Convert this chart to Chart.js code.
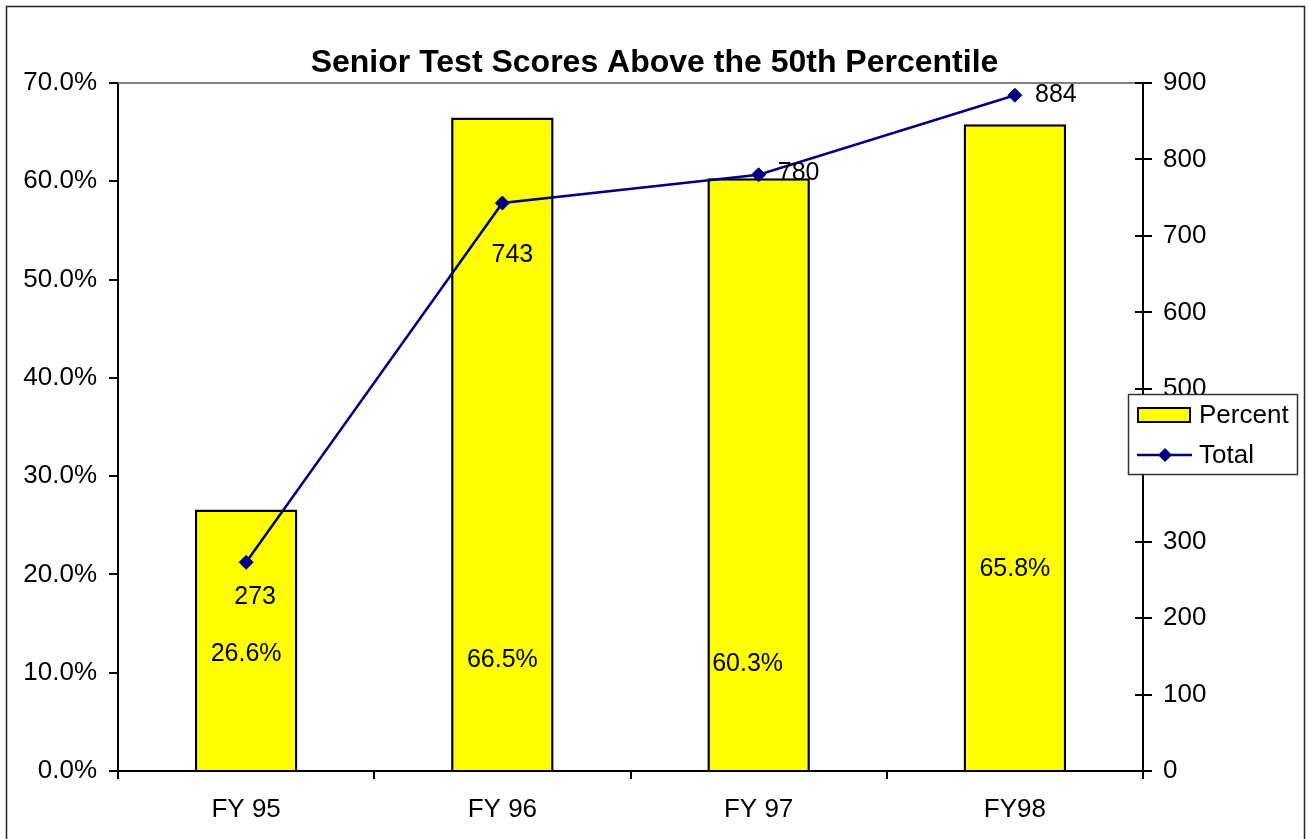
<!DOCTYPE html>
<html>
<head>
<meta charset="utf-8">
<script src="https://cdn.jsdelivr.net/npm/chart.js@4.4.0/dist/chart.umd.min.js"></script>
<style>
  html, body { margin: 0; padding: 0; background: #fff; }
  #wrap { width: 1309px; height: 839px; position: relative; }
</style>
</head>
<body>
<div id="wrap"><canvas id="scoreGraph"></canvas></div>
<script>
// chart values
var years = ["FY 95", "FY 96", "FY 97", "FY98"];
var percentAbove = [0.266, 0.665, 0.603, 0.658];
var totalAbove = [273, 743, 780, 884];
var percentMax = 0.7, percentStep = 0.1;
var totalMax = 900, totalStep = 100;

// label offsets (pixels) - just for placing the data labels like the original
var pctLabelOff = [[0, -116], [0, -110], [-11, -106], [0, -201]];
var totLabelOff = [[9, 35], [10, 52], [40, -2], [41, 0]];

var FONT = "'Liberation Sans', Arial, sans-serif";
var NAVY = "#000080";

var extrasPlugin = {
    id: 'extras',
    beforeDatasetsDraw: function(chart) {
        var ctx = chart.ctx, a = chart.chartArea;
        ctx.save();
        // plot area top edge
        ctx.strokeStyle = "#808080";
        ctx.lineWidth = 2;
        ctx.beginPath();
        ctx.moveTo(a.left, a.top);
        ctx.lineTo(a.right, a.top);
        ctx.stroke();
        // inner half of the right axis ticks
        var y1 = chart.scales.y1;
        ctx.strokeStyle = "#000";
        ctx.lineWidth = 2;
        y1.ticks.forEach(function(t) {
            var py = Math.round(y1.getPixelForValue(t.value));
            ctx.beginPath();
            ctx.moveTo(a.right - 8, py);
            ctx.lineTo(a.right, py);
            ctx.stroke();
        });
        ctx.restore();
    },
    afterDatasetsDraw: function(chart) {
        var ctx = chart.ctx;
        ctx.save();
        ctx.font = "25px " + FONT;
        ctx.fillStyle = "#000";
        ctx.textAlign = "center";
        ctx.textBaseline = "middle";
        var bars = chart.getDatasetMeta(0).data;
        bars.forEach(function(b, i) {
            var txt = (percentAbove[i] * 100).toFixed(1) + "%";
            ctx.fillText(txt, b.x + pctLabelOff[i][0], b.base + pctLabelOff[i][1]);
        });
        var pts = chart.getDatasetMeta(1).data;
        pts.forEach(function(p, i) {
            ctx.fillText(String(totalAbove[i]), p.x + totLabelOff[i][0], p.y + totLabelOff[i][1]);
        });

        // legend box over the right axis
        var lx = 1128, ly = 394, lw = 169, lh = 80;
        ctx.fillStyle = "#fff";
        ctx.fillRect(lx, ly, lw, lh);
        ctx.strokeStyle = "#333";
        ctx.lineWidth = 1.5;
        ctx.strokeRect(lx + 0.5, ly + 0.5, lw, lh);
        ctx.fillStyle = "#ffff00";
        ctx.fillRect(1137, 407, 54, 16);
        ctx.strokeStyle = "#000";
        ctx.lineWidth = 2;
        ctx.strokeRect(1138, 408, 52, 14);
        ctx.strokeStyle = NAVY;
        ctx.lineWidth = 2.5;
        ctx.beginPath();
        ctx.moveTo(1137, 455);
        ctx.lineTo(1192, 455);
        ctx.stroke();
        ctx.fillStyle = NAVY;
        ctx.beginPath();
        ctx.moveTo(1165, 448); ctx.lineTo(1172, 455); ctx.lineTo(1165, 462); ctx.lineTo(1158, 455);
        ctx.closePath();
        ctx.fill();
        ctx.fillStyle = "#000";
        ctx.font = "26px " + FONT;
        ctx.textAlign = "left";
        ctx.fillText(chart.data.datasets[0].label, 1199, 416);
        ctx.fillText(chart.data.datasets[1].label, 1199, 456);
        ctx.restore();
    },
    afterDraw: function(chart) {
        var ctx = chart.ctx;
        ctx.save();
        ctx.strokeStyle = "#222";
        ctx.lineWidth = 1.5;
        ctx.strokeRect(6.5, 6.5, 1298, 845);
        ctx.restore();
    }
};

var scoreConfig = {
    type: 'bar',
    data: {
        labels: years,
        datasets: [{
            label: "Percent",
            data: percentAbove,
            yAxisID: 'y',
            backgroundColor: "#ffff00",
            borderColor: "#000",
            borderWidth: 2.5,
            categoryPercentage: 1.0,
            barPercentage: 0.4,
            order: 2
        }, {
            label: "Total",
            type: 'line',
            data: totalAbove,
            yAxisID: 'y1',
            borderColor: NAVY,
            backgroundColor: NAVY,
            borderWidth: 2.5,
            pointStyle: 'rectRot',
            pointRadius: 7,
            pointBorderWidth: 1,
            tension: 0,
            order: 1
        }]
    },
    options: {
        responsive: true,
        maintainAspectRatio: false,
        animation: false,
        layout: { padding: 0 },
        plugins: {
            legend: { display: false },
            tooltip: { enabled: false },
            title: {
                display: true,
                text: "Senior Test Scores Above the 50th Percentile",
                color: "#000",
                font: { family: FONT, size: 32, weight: 'bold', lineHeight: 1.2 },
                padding: { top: 43.6, bottom: 1 }
            }
        },
        scales: {
            x: {
                grid: { offset: true, drawOnChartArea: false, tickLength: 8, color: "#000", lineWidth: 2 },
                border: { color: "#000", width: 2 },
                ticks: { color: "#000", font: { family: FONT, size: 26 }, padding: 15, maxRotation: 0 },
                afterFit: function(s) { s.height = 68; }
            },
            y: {
                position: 'left',
                min: 0, max: percentMax,
                grid: { drawOnChartArea: false, tickLength: 9, color: "#000", lineWidth: 2 },
                border: { color: "#000", width: 2 },
                ticks: {
                    stepSize: percentStep, color: "#000", padding: 12,
                    font: { family: FONT, size: 26 },
                    callback: function(v) { return (v * 100).toFixed(1) + "%"; }
                },
                afterFit: function(s) { s.width = 118; }
            },
            y1: {
                position: 'right',
                min: 0, max: totalMax,
                grid: { drawOnChartArea: false, tickLength: 9, color: "#000", lineWidth: 2 },
                border: { color: "#000", width: 2 },
                ticks: { stepSize: totalStep, color: "#000", padding: 11, font: { family: FONT, size: 26 } },
                afterFit: function(s) { s.width = 166; }
            }
        }
    },
    plugins: [extrasPlugin]
};

var scoreCtx = document.getElementById("scoreGraph");
var scoreChart = new Chart(scoreCtx, scoreConfig);
</script>
</body>
</html>
